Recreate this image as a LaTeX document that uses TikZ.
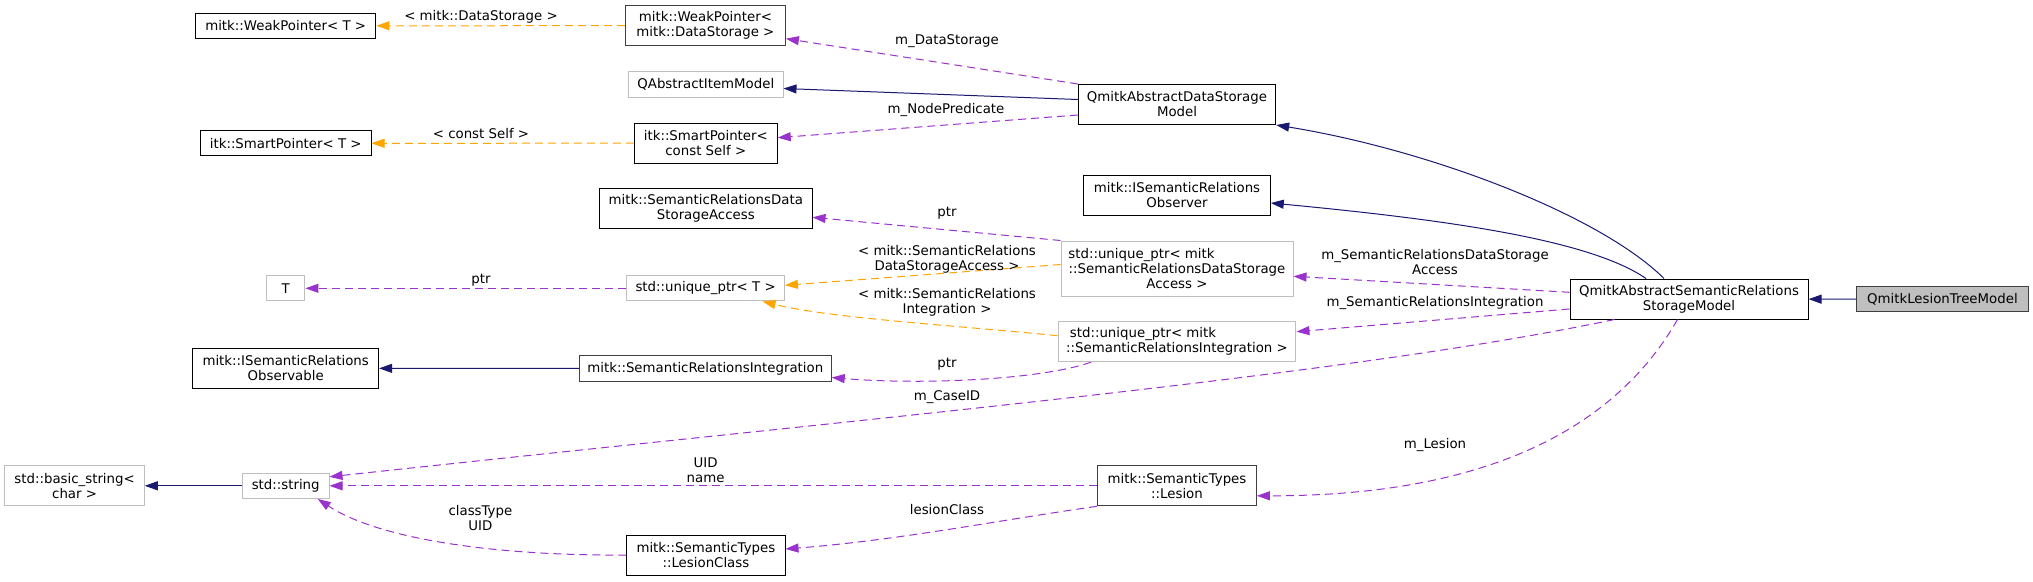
\documentclass[tikz,border=0pt]{standalone}
\usepackage{fontspec}
\setmainfont{DejaVu Sans}
\usetikzlibrary{arrows.meta,calc}

\definecolor{inhblue}{RGB}{25,25,112}
\definecolor{tmplorange}{RGB}{255,165,0}
\definecolor{usepurple}{RGB}{154,50,205}
\definecolor{undocgray}{RGB}{191,191,191}

\begin{document}
\begin{tikzpicture}[x=1pt,y=1pt,yscale=-1,
  font=\fontsize{13.33}{15}\selectfont,
  >={Triangle[length=13pt,width=9pt]},
  cls/.style={draw=black,fill=white,line width=1pt,inner sep=0pt,align=center,minimum height=25.3pt},
  cls2/.style={cls,minimum height=40pt},
  undoc/.style={draw=undocgray},
  cur/.style={cls,fill=undocgray,draw=black!75},
  lbl/.style={inner sep=0pt,align=center},
  inh/.style={draw=inhblue,line width=1pt,->},
  tmpl/.style={draw=tmplorange,line width=1pt,dash pattern=on 8pt off 5pt,->},
  use/.style={draw=usepurple,line width=1pt,dash pattern=on 8pt off 5pt,->}]
%set diagram to 2033 x 581, as the picture it comes from
\useasboundingbox (0,0) rectangle (2033,581);
\fill[white] (0,0) rectangle (2033,581);

\node[cls,minimum width=180.4pt] (wpt) at (285.7,25.8) {mitk::WeakPointer< T >};
\node[cls,minimum width=170.6pt] (spt) at (285.7,143.3) {itk::SmartPointer< T >};
\node[cls,undoc,minimum width=38.4pt] (tparam) at (285.7,288.3) {T};
\node[cls2,minimum width=185.7pt] (isrobs) at (285.7,368.3) {mitk::ISemanticRelations\\Observable};
\node[cls2,undoc,minimum width=139.3pt] (bstr) at (74.6,485.8) {std::basic\_string<\\char >};
\node[cls,undoc,minimum width=86.6pt] (str) at (285.7,485.8) {std::string};

\node[cls2,draw=black!75,minimum width=160pt] (wpds) at (705.4,25.7) {mitk::WeakPointer<\\mitk::DataStorage >};
\node[cls,undoc,minimum width=154.4pt] (qaim) at (705.8,84.5) {QAbstractItemModel};
\node[cls2,minimum width=142.8pt] (spcs) at (705.8,143.2) {itk::SmartPointer<\\const Self >};
\node[cls2,minimum width=212.5pt] (srdsa) at (705.8,208.7) {mitk::SemanticRelationsData\\StorageAccess};
\node[cls,undoc,minimum width=157.6pt] (uptr) at (705.6,288.3) {std::unique\_ptr< T >};
\node[cls,draw=black!75,minimum width=251.8pt] (sri) at (705.3,368.5) {mitk::SemanticRelationsIntegration};
\node[cls2,minimum width=158.2pt] (lcls) at (705.9,555) {mitk::SemanticTypes\\::LesionClass};

\node[cls2,minimum width=197.3pt] (qadsm) at (1177,104.5) {QmitkAbstractDataStorage\\Model};
\node[cls2,minimum width=186.5pt] (isrobsv) at (1177,195) {mitk::ISemanticRelations\\Observer};
\node[cls,undoc,minimum width=232pt,minimum height=55pt] (updsa) at (1177,268.5) {std::unique\_ptr< mitk\hspace*{71pt}\\::SemanticRelationsDataStorage\\Access >};
\node[cls2,undoc,minimum width=237.9pt] (upsri) at (1177,341.7) {std::unique\_ptr< mitk\hspace*{68pt}\\::SemanticRelationsIntegration >};
\node[cls2,draw=black!75,minimum width=158.8pt] (lesion) at (1177,485.8) {mitk::SemanticTypes\\::Lesion};

\node[cls2,minimum width=238pt] (qasrsm) at (1689,299) {QmitkAbstractSemanticRelations\\StorageModel};
\node[cur,minimum width=171.2pt] (qltm) at (1942.4,299.3) {QmitkLesionTreeModel};

\draw[inh] (qltm) -- (qasrsm);
\draw[inh] ($(qasrsm.north)+(-25,0)$) .. controls (1600,215) and (1430,150) .. (qadsm.south east);
\draw[inh] ($(qasrsm.north)+(-43,0)$) .. controls (1590,240) and (1450,220) .. ($(isrobsv.east)+(0,8)$);
\draw[inh] ($(qadsm.west)+(0,-5)$) -- ($(qaim.east)+(0,4)$);
\draw[inh] (sri) -- (isrobs);
\draw[inh] (str) -- (bstr);

\draw[tmpl] (wpds) -- (wpt);
\draw[tmpl] (spcs) -- (spt);
\draw[tmpl] ($(updsa.west)+(0,-4)$) -- ($(uptr.east)+(0,-3)$);
\draw[tmpl] ($(upsri.west)+(0,-6)$) .. controls (950,325) and (830,318) .. ($(uptr.south)+(57,0)$);

\draw[use] (qadsm.north west) -- ($(wpds.east)+(0,13)$);
\draw[use] ($(qadsm.west)+(0,10.5)$) -- ($(spcs.east)+(0,-5.5)$);
\draw[use] (updsa.north west) -- ($(srdsa.east)+(0,8.6)$);
\draw[use] (uptr) -- (tparam);
\draw[use] ($(qasrsm.west)+(0,-6.7)$) -- ($(updsa.east)+(0,7.8)$);
\draw[use] ($(qasrsm.west)+(0,10)$) -- ($(upsri.east)+(0,-10)$);
\draw[use] ($(upsri.south)+(-86,0)$) .. controls (1040,380) and (920,385) .. ($(sri.east)+(0,9)$);
\draw[use] ($(qasrsm.south west)+(45,0)$) .. controls (1350,375) and (900,415) .. ($(str.east)+(0,-9)$);
\draw[use] (lesion) -- (str);
\draw[use] ($(qasrsm.south)+(-11.5,0)$) .. controls (1620,420) and (1500,496) .. ($(lesion.east)+(0,10)$);
\draw[use] (lesion.south west) .. controls (1000,520) and (900,540) .. ($(lcls.east)+(0,-6)$);
\draw[use] (lcls.west) .. controls (500,556) and (380,540) .. ($(str.south)+(32,0)$);

\node[lbl] (lwpt) at (481,17.3) {< mitk::DataStorage >};
\node[lbl] (lspt) at (481,134) {< const Self >};
\node[lbl] (lwpds) at (947,40.7) {m\_DataStorage};
\node[lbl] (lspcs) at (946,110.3) {m\_NodePredicate};
\node[lbl] (lsrdsa) at (947,213.3) {ptr};
\node[lbl] (ltparam) at (481,280.7) {ptr};
\node[lbl] (luptra) at (947,259.7) {< mitk::SemanticRelations\\DataStorageAccess >};
\node[lbl] (luptrb) at (947,302) {< mitk::SemanticRelations\\Integration >};
\node[lbl] (lupdsa) at (1435,262) {m\_SemanticRelationsDataStorage\\Access};
\node[lbl] (lupsri) at (1435,302.7) {m\_SemanticRelationsIntegration};
\node[lbl] (lsri) at (947,364.3) {ptr};
\node[lbl] (lcase) at (947,396.7) {m\_CaseID};
\node[lbl] (luid) at (705.6,470) {UID\\name};
\node[lbl] (llesion) at (1435,445) {m\_Lesion};
\node[lbl] (llcls) at (947,510) {lesionClass};
\node[lbl] (lclass) at (480.4,518) {classType\\UID};

\end{tikzpicture}
\end{document}
